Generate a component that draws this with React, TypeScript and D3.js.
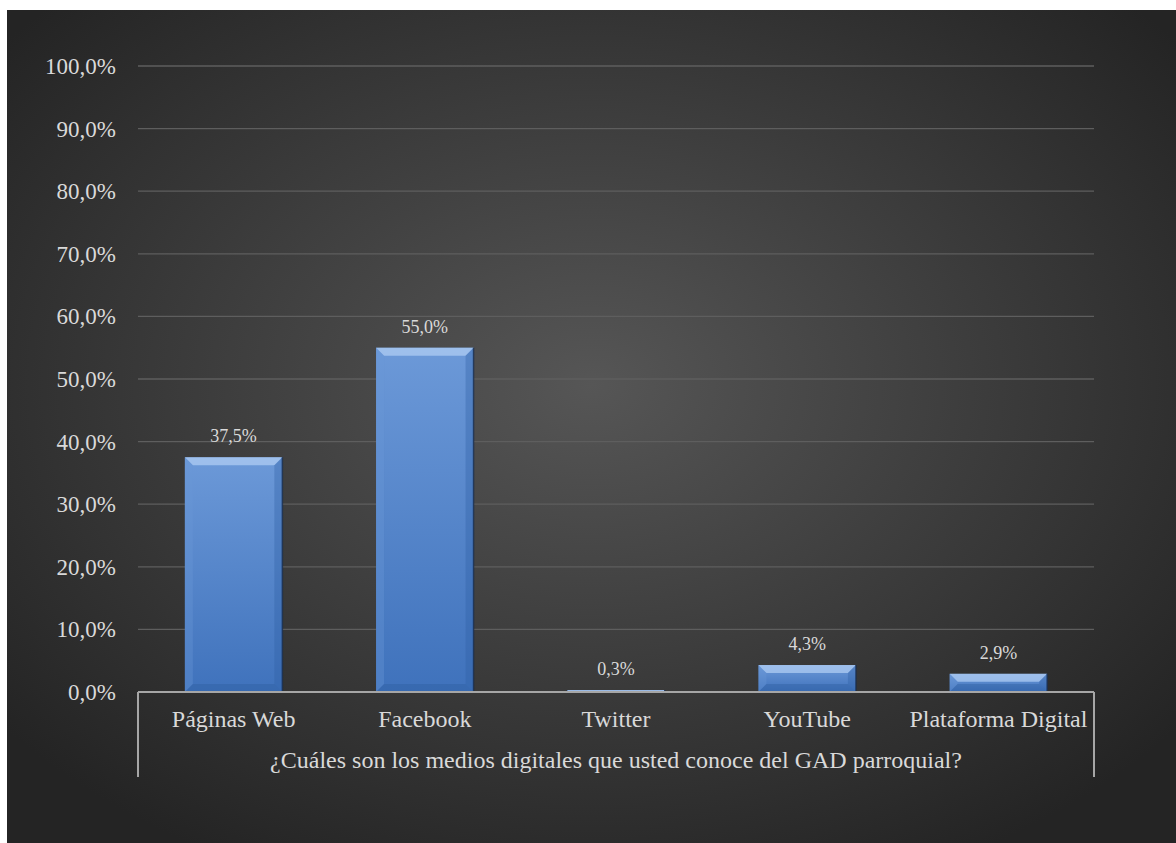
import React from "react";
import * as d3 from "d3";

const categories = ["Páginas Web", "Facebook", "Twitter", "YouTube", "Plataforma Digital"];
const values = [37.5, 55.0, 0.3, 4.3, 2.9];
const yTicks = [0, 10, 20, 30, 40, 50, 60, 70, 80, 90, 100];
const axisTitle = "¿Cuáles son los medios digitales que usted conoce del GAD parroquial?";

const W = 1176, H = 843;
const bg = { x: 7, y: 10, w: 1169, h: 833 };
const plot = { left: 138, right: 1094, top: 66, bottom: 692 };
const fmt = (v: number) => v.toFixed(1).replace(".", ",") + "%";

export default function App() {
  const x = d3.scaleBand<string>().domain(categories).range([plot.left, plot.right]).paddingInner(0.49).paddingOuter(0.245);
  const y = d3.scaleLinear().domain([0, 100]).range([plot.bottom, plot.top]);
  const font = "'Liberation Serif', 'Times New Roman', serif";
  const bw = x.bandwidth();
  return (
    <svg width={W} height={H} style={{ position: "absolute", left: 0, top: 0 }}>
      <defs>
        <radialGradient id="bgGrad" cx="0.5" cy="0.45" r="0.65">
          <stop offset="0" stopColor="#565656" />
          <stop offset="1" stopColor="#242424" />
        </radialGradient>
        <linearGradient id="barGrad" x1="0" y1="0" x2="0" y2="1">
          <stop offset="0" stopColor="#6c99d8" />
          <stop offset="1" stopColor="#3f72bc" />
        </linearGradient>
      </defs>
      <rect x={bg.x} y={bg.y} width={bg.w} height={bg.h} fill="url(#bgGrad)" />
      {yTicks.map((t) => (
        <g key={t}>
          {t > 0 && (
            <line x1={plot.left} x2={plot.right} y1={y(t)} y2={y(t)} stroke="#5e5e5e" strokeWidth={1.3} />
          )}
          <text x={116} y={y(t)} dy="0.35em" textAnchor="end" fill="#d9d9d9" fontFamily={font} fontSize={23}>
            {fmt(t)}
          </text>
        </g>
      ))}
      {categories.map((c, i) => {
        const x0 = x(c)!;
        const x1 = x0 + bw;
        const yt = y(values[i]);
        const yb = y(0);
        const h = yb - yt;
        const b = Math.min(8, h / 2);
        return (
          <g key={c}>
            <rect x={x0} y={yt} width={bw} height={h} fill="url(#barGrad)" />
            {h > 1 && (
              <>
                <polygon points={`${x0},${yt} ${x1},${yt} ${x1 - b},${yt + b} ${x0 + b},${yt + b}`} fill="#b3d0f5" opacity={0.7} />
                <polygon points={`${x0},${yt} ${x0 + b},${yt + b} ${x0 + b},${yb - b} ${x0},${yb}`} fill="#6a98d8" opacity={0.35} />
                <polygon points={`${x1},${yt} ${x1 - b},${yt + b} ${x1 - b},${yb - b} ${x1},${yb}`} fill="#2f5fa3" opacity={0.35} />
                <polygon points={`${x0},${yb} ${x0 + b},${yb - b} ${x1 - b},${yb - b} ${x1},${yb}`} fill="#2d5c9e" opacity={0.4} />
                <line x1={x1} x2={x1} y1={yt} y2={yb} stroke="#1a2e4e" strokeWidth={1.5} opacity={0.8} />
              </>
            )}
            <text x={x0 + bw / 2} y={yt - 15} textAnchor="middle" fill="#d9d9d9" fontFamily={font} fontSize={18}>
              {fmt(values[i])}
            </text>
            <text x={x0 + bw / 2} y={727} textAnchor="middle" fill="#d9d9d9" fontFamily={font} fontSize={24}>
              {c}
            </text>
          </g>
        );
      })}
      <line x1={plot.left} x2={plot.right} y1={plot.bottom} y2={plot.bottom} stroke="#a6a6a6" strokeWidth={2} />
      <line x1={plot.left} x2={plot.left} y1={plot.bottom} y2={777} stroke="#a6a6a6" strokeWidth={2} />
      <line x1={plot.right} x2={plot.right} y1={plot.bottom} y2={777} stroke="#a6a6a6" strokeWidth={2} />
      <text x={(plot.left + plot.right) / 2} y={768} textAnchor="middle" fill="#d9d9d9" fontFamily={font} fontSize={24}>
        {axisTitle}
      </text>
    </svg>
  );
}
